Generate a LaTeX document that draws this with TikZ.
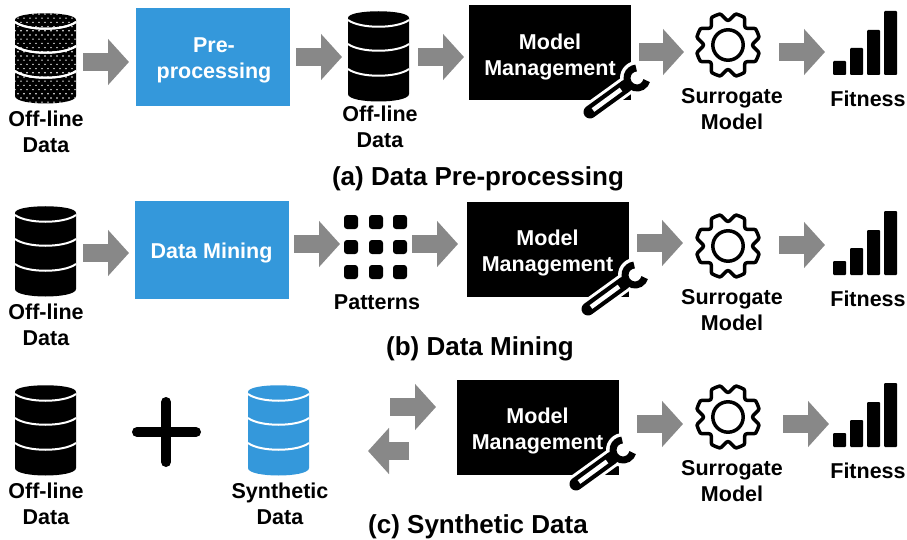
\documentclass[tikz,border=0pt]{standalone}
\usepackage{fontspec}
\setmainfont{Liberation Sans}
\usetikzlibrary{arrows.meta}
\definecolor{boxblue}{HTML}{3498DB}
\definecolor{arrowgray}{HTML}{888888}
\tikzset{
  txt/.style={font=\bfseries\fontsize{21.5}{26}\selectfont,align=center,inner sep=0pt},
  whitetxt/.style={txt,text=white},
  caption/.style={font=\bfseries\fontsize{26}{30}\selectfont,inner sep=0pt},
  procbox/.style={fill=boxblue,minimum width=154pt,minimum height=98pt,inner sep=0pt},
  modelbox/.style={fill=black,minimum width=162pt,minimum height=95pt,inner sep=0pt},
  patterncell/.style={fill=black,rounded corners=3pt,minimum size=14pt,inner sep=0pt},
  flowarrow/.style={draw=arrowgray,line width=18pt,-{Triangle[length=21pt,width=45pt,fill=arrowgray]}},
  pics/dbbody/.style={code={
    \fill[#1] (0,7) .. controls (0,-2) and (61,-2) .. (61,7) -- (61,83)
      .. controls (61,93) and (0,93) .. (0,83) -- cycle;
    \foreach \yy in {9,33,58}
      \draw[white,line width=2pt] (0,\yy) .. controls (12,\yy+9) and (49,\yy+9) .. (61,\yy);
  }},
  pics/dbdots/.style={code={
    \begin{scope}
      \clip (0,7) .. controls (0,-2) and (61,-2) .. (61,7) -- (61,83)
        .. controls (61,93) and (0,93) .. (0,83) -- cycle;
      \foreach \i in {0,...,10}
        \foreach \j in {0,...,21}
          \fill[white] ({\i*6+3*mod(\j,2)},{\j*4.2+1}) circle (0.8);
    \end{scope}
    \foreach \yy in {9,33,58}
      \draw[white,line width=2pt] (0,\yy) .. controls (12,\yy+9) and (49,\yy+9) .. (61,\yy);
  }},
  pics/gearicon/.style={code={
    \draw[line width=3.5pt,line join=round] plot[smooth,domain=0:357,samples=120]
      (\x:{28.3+3.7*min(1,1.5*cos(8*(\x-22.5))+0.5)}) -- cycle;
    \draw[line width=3.5pt] (0,0) circle (15.2);
  }},
  pics/fitbars/.style={code={
    \fill[rounded corners=1pt] (0,50) rectangle (13,64);
    \fill[rounded corners=1pt] (17,37) rectangle (30,64);
    \fill[rounded corners=1pt] (34,19) rectangle (47,64);
    \fill[rounded corners=1pt] (51,0) rectangle (64,64);
  }},
  pics/wrenchicon/.style={code={
    \draw[white,line width=19pt,line cap=round] (0,0) -- (-47,34);
    \fill[white] (0,0) circle (17);
    \draw[line width=13pt,line cap=round] (-11,8) -- (-47,34);
    \draw[line width=7pt] (15:10) arc[start angle=15,end angle=265,radius=10];
    \draw[white,line width=4.5pt] (-16,11.5) -- (-44,32);
  }}
}
\begin{document}
\begin{tikzpicture}[x=1pt,y=-1pt]
  \useasboundingbox (0,0) rectangle (907,540);

  % (a)
  \pic (dbA) at (15,13) {dbbody=black};
  \pic (dotsA) at (15,13) {dbdots};
  \node[txt] (offA) at (46,131.5) {Off-line\\Data};
  \node[procbox] (preA) at (213,57) {};
  \node[whitetxt] (preAt) at (214,60) {Pre-\\processing};
  \pic (dbB) at (348,11) {dbbody=black};
  \node[txt] (offB) at (380,127) {Off-line\\Data};
  \node[modelbox] (modA) at (550,52.5) {};
  \node[whitetxt] (modAt) at (550,56.5) {Model\\Management};
  \pic (gearA) at (728,45) {gearicon};
  \node[txt] (surA) at (732,109) {Surrogate\\Model};
  \pic (barA) at (833,11) {fitbars};
  \node[txt] (fitA) at (868,99) {Fitness};
  \node[caption] (capA) at (478,179) {(a) Data Pre-processing};

  % (b)
  \pic (dbC) at (15,206) {dbbody=black};
  \node[txt] (offC) at (46,325) {Off-line\\Data};
  \node[procbox] (minB) at (212,250) {};
  \node[whitetxt] (minBt) at (211.5,253) {Data Mining};
  \foreach \cx in {351,376,400}
    \foreach \cy in {222,247,272}
      \node[patterncell] (p\cx\cy) at (\cx,\cy) {};
  \node[txt] (patB) at (377,302) {Patterns};
  \node[modelbox] (modB) at (548,249.5) {};
  \node[whitetxt] (modBt) at (547.5,252.5) {Model\\Management};
  \pic (gearB) at (728,246) {gearicon};
  \node[txt] (surB) at (732,310.5) {Surrogate\\Model};
  \pic (barB) at (833,211) {fitbars};
  \node[txt] (fitB) at (868,299) {Fitness};
  \node[caption] (capB) at (480,349) {(b) Data Mining};

  % (c)
  \pic (dbD) at (15,385) {dbbody=black};
  \node[txt] (offD) at (46,504) {Off-line\\Data};
  \draw[line width=10pt,line cap=round] (166,402) -- (166,462);
  \draw[line width=10pt,line cap=round] (137,432) -- (196,432);
  \pic (dbE) at (248,385) {dbbody=boxblue};
  \node[txt] (synC) at (280,504) {Synthetic\\Data};
  \node[modelbox] (modC) at (537.5,427.5) {};
  \node[whitetxt] (modCt) at (537.5,430.5) {Model\\Management};
  \pic (gearC) at (728,417) {gearicon};
  \node[txt] (surC) at (732,481.5) {Surrogate\\Model};
  \pic (barC) at (833,383) {fitbars};
  \node[txt] (fitC) at (868,471) {Fitness};
  \node[caption] (capC) at (478,527) {(c) Synthetic Data};

  % arrows
  \coordinate (a1) at (83,62);   \coordinate (a2) at (129,62);
  \coordinate (a3) at (296,57);  \coordinate (a4) at (342,57);
  \coordinate (a5) at (418,57);  \coordinate (a6) at (464,57);
  \coordinate (a7) at (639,52);  \coordinate (a8) at (684,52);
  \coordinate (a9) at (779,52);  \coordinate (a10) at (825,52);
  \coordinate (b1) at (83,253);  \coordinate (b2) at (129,253);
  \coordinate (b3) at (294,244); \coordinate (b4) at (340,244);
  \coordinate (b5) at (412,244); \coordinate (b6) at (458,244);
  \coordinate (b7) at (637,243); \coordinate (b8) at (683,243);
  \coordinate (b9) at (779,245); \coordinate (b10) at (825,245);
  \coordinate (c1) at (390,407); \coordinate (c2) at (436,407);
  \coordinate (c3) at (409,451); \coordinate (c4) at (368,451);
  \coordinate (c5) at (637,424); \coordinate (c6) at (683,424);
  \coordinate (c7) at (783,424); \coordinate (c8) at (829,424);

  \foreach \from/\to in {a1/a2,a3/a4,a5/a6,a7/a8,a9/a10,b1/b2,b3/b4,b5/b6,b7/b8,b9/b10,c1/c2,c3/c4,c5/c6,c7/c8}
    \draw[flowarrow] (\from) -- (\to);

  % wrenches over the arrows
  \pic (wrA) at (637,78) {wrenchicon};
  \pic (wrB) at (635,275) {wrenchicon};
  \pic (wrC) at (623,450) {wrenchicon};
\end{tikzpicture}
\end{document}
